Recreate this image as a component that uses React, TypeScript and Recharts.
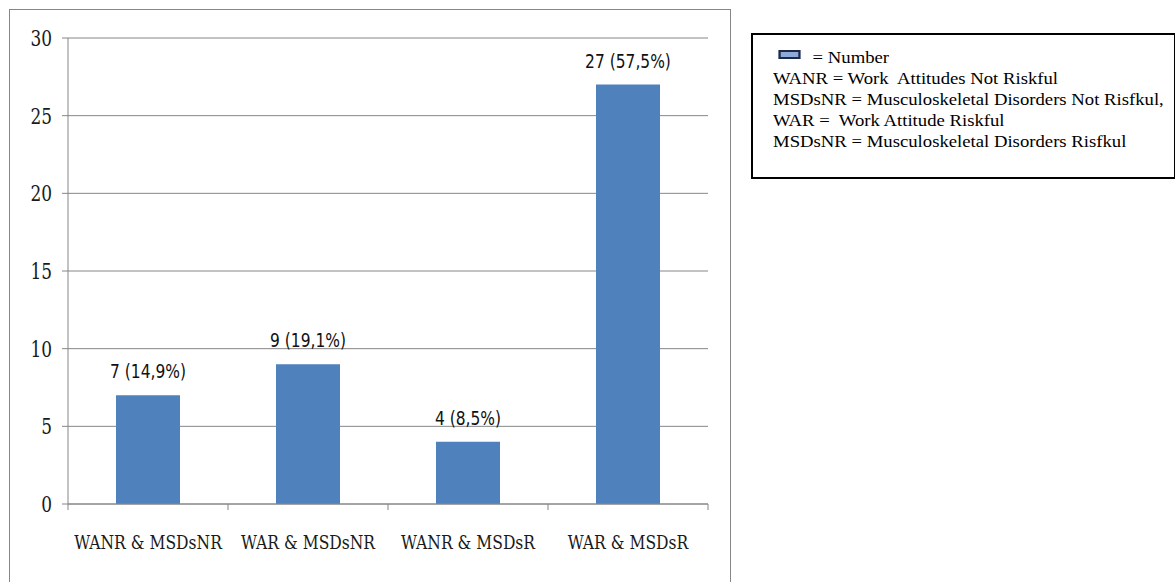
import { BarChart, Bar, XAxis, YAxis, CartesianGrid, LabelList } from "recharts";

const categories = ["WANR & MSDsNR", "WAR & MSDsNR", "WANR & MSDsR", "WAR & MSDsR"];
const counts = [7, 9, 4, 27];
const percents = ["14,9%", "19,1%", "8,5%", "57,5%"];
const yTicks = [0, 5, 10, 15, 20, 25, 30];
const legendSwatchLabel = "= Number";
const legendLines = [
  "WANR = Work\u00a0 Attitudes Not Riskful",
  "MSDsNR = Musculoskeletal Disorders Not Risfkul,",
  "WAR =\u00a0 Work Attitude Riskful",
  "MSDsNR = Musculoskeletal Disorders Risfkul",
];

const data = categories.map((name, i) => ({
  name,
  value: counts[i],
  label: `${counts[i]} (${percents[i]})`,
}));

const GRAY = "#868686";
const BAR = "#4F81BD";
const HALF_BAND = 80;
const SERIF = "'DejaVu Serif', serif";

function CategoryTick(props: any) {
  const { x, y, payload, index } = props;
  return (
    <g>
      <line x1={x - HALF_BAND} y1={y} x2={x - HALF_BAND} y2={y + 6} stroke={GRAY} />
      {index === data.length - 1 && (
        <line x1={x + HALF_BAND} y1={y} x2={x + HALF_BAND} y2={y + 6} stroke={GRAY} />
      )}
      <text
        transform={`translate(${x},${y + 45}) scale(0.91,1)`}
        textAnchor="middle"
        fontFamily={SERIF}
        fontSize={19}
        style={{ fontStretch: "condensed" }}
        fill="#1a1a1a"
      >
        {payload.value}
      </text>
    </g>
  );
}

function ValueTick(props: any) {
  const { x, y, payload } = props;
  return (
    <text
      transform={`translate(${x},${y + 8}) scale(0.82,1)`}
      textAnchor="end"
      fontFamily={SERIF}
      fontSize={23}
      style={{ fontStretch: "condensed" }}
      fill="#1a1a1a"
    >
      {payload.value}
    </text>
  );
}

function BarLabel(props: any) {
  const { x, y, width, value } = props;
  return (
    <text
      transform={`translate(${x + width / 2},${y - 17}) scale(0.86,1)`}
      textAnchor="middle"
      fontFamily="'DejaVu Sans', sans-serif"
      fontSize={20}
      style={{ fontStretch: "condensed" }}
      fill="#111"
    >
      {value}
    </text>
  );
}

export default function App() {
  return (
    <div style={{ position: "absolute", left: 0, top: 0, width: 1175, height: 582, background: "#fff", overflow: "hidden" }}>
      <div
        style={{
          position: "absolute",
          left: 9,
          top: 9,
          width: 720,
          height: 600,
          border: `1px solid ${GRAY}`,
        }}
      />
      <div style={{ position: "absolute", left: 0, top: 0 }}>
        <BarChart
          width={1175}
          height={582}
          data={data}
          margin={{ top: 38, right: 467, left: 8, bottom: 48 }}
          barCategoryGap="30%"
        >
          <CartesianGrid vertical={false} stroke={GRAY} />
          <XAxis
            dataKey="name"
            height={30}
            axisLine={{ stroke: GRAY }}
            tickLine={false}
            tickSize={0}
            tickMargin={0}
            tick={<CategoryTick />}
            interval={0}
          />
          <YAxis
            width={60}
            domain={[0, 30]}
            ticks={yTicks}
            axisLine={{ stroke: GRAY }}
            tickLine={{ stroke: GRAY }}
            tickSize={6}
            tickMargin={10}
            tick={<ValueTick />}
          />
          <Bar dataKey="value" fill={BAR} isAnimationActive={false}>
            <LabelList dataKey="label" content={<BarLabel />} />
          </Bar>
        </BarChart>
      </div>
      <div
        style={{
          position: "absolute",
          left: 751,
          top: 33,
          width: 425,
          height: 146,
          border: "2px solid #000",
          boxSizing: "border-box",
          fontFamily: "'Liberation Serif', 'Times New Roman', serif",
          fontSize: 17,
          lineHeight: "21px",
          color: "#000",
          padding: "12px 0 0 20px",
        }}
      >
        <div style={{ transform: "scaleX(1.1)", transformOrigin: "left top" }}>
          <div style={{ display: "flex", alignItems: "center" }}>
            <span
              style={{
                display: "inline-block",
                width: 16,
                height: 5,
                background: "#8EA9DB",
                border: "2px solid #1f2a44",
                marginLeft: 5,
                marginRight: 11,
                position: "relative",
                top: -3,
              }}
            />
            <span>{legendSwatchLabel}</span>
          </div>
          {legendLines.map((l) => (
            <div key={l}>{l}</div>
          ))}
        </div>
      </div>
    </div>
  );
}
